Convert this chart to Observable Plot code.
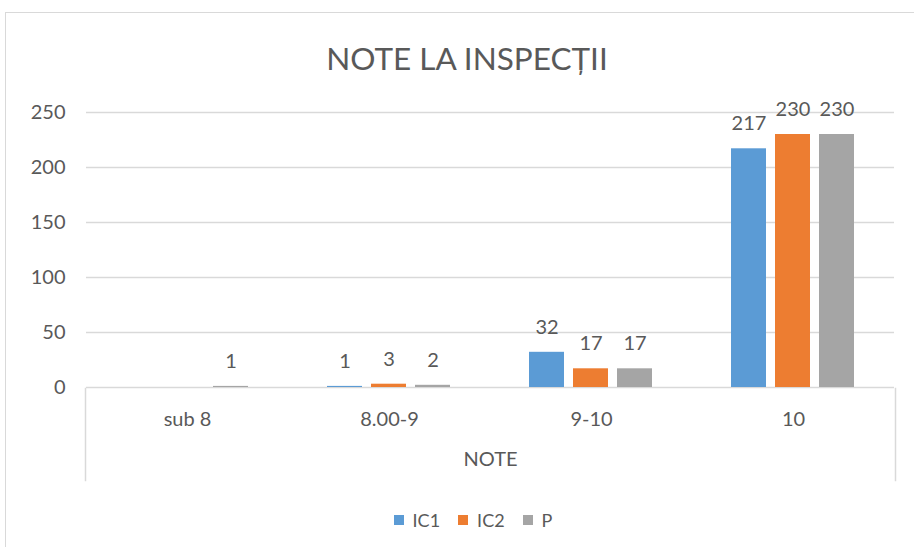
<!DOCTYPE html>
<html>
<head>
<meta charset="utf-8">
<script src="https://cdn.jsdelivr.net/npm/d3@7"></script>
<script src="https://cdn.jsdelivr.net/npm/@observablehq/plot@0.6"></script>
<style>
  html, body { margin: 0; padding: 0; background: #fff; }
  #chart { position: relative; width: 914px; height: 547px; overflow: hidden; font-family: Lato, "Open Sans", sans-serif; color: #595959; }
  #border { position: absolute; left: 5px; top: 12px; width: 1200px; height: 1200px; border-left: 1.5px solid #d9d9d9; border-top: 1.5px solid #d9d9d9; }
  #title { position: absolute; left: 0; top: 38px; width: 934px; text-align: center; font-size: 31.5px; line-height: 40px; color: #595959; }
  #bars { position: absolute; left: 0; top: 80px; }
  #cats { position: absolute; left: 0; top: 388px; }
  #legend { position: absolute; left: 0; top: 503px; width: 964px; display: flex; justify-content: center; }
</style>
</head>
<body>
<div id="chart">
  <div id="border"></div>
  <div id="title">NOTE LA INSPECȚII</div>
  <div id="bars"></div>
  <div id="cats"></div>
  <div id="legend"></div>
</div>
<script>
// ---- data ----
const categories = ["sub 8", "8.00-9", "9-10", "10"];
const series = ["IC1", "IC2", "P"];
const valuesIC1 = [null, 1, 32, 217];
const valuesIC2 = [null, 3, 17, 230];
const valuesP = [1, 2, 17, 230];
const yTicks = [0, 50, 100, 150, 200, 250];
const axisTitle = "NOTE";
const colors = ["#5b9bd5", "#ed7d31", "#a5a5a5"];

const seriesValues = {IC1: valuesIC1, IC2: valuesIC2, P: valuesP};
const rows = [];
categories.forEach((c, i) => {
  series.forEach(s => {
    const v = seriesValues[s][i];
    if (v != null) rows.push({category: c, series: s, value: v});
  });
});

const textColor = "#595959";
const gridColor = "#d9d9d9";
const font = "Lato, 'Open Sans', sans-serif";

const barsPlot = Plot.plot({
  width: 914,
  height: 309,
  marginLeft: 85,
  marginRight: 19,
  marginTop: 32,
  marginBottom: 2,
  style: {fontFamily: font, fontSize: "20px", color: textColor, background: "transparent", overflow: "visible"},
  fx: {domain: categories, padding: 0, axis: null},
  x: {domain: series, paddingInner: 0.2, paddingOuter: 0.85, axis: null},
  y: {domain: [0, 250], ticks: yTicks, tickSize: 0, tickPadding: 21, label: null, axis: "left"},
  color: {domain: series, range: colors},
  marks: [
    Plot.ruleY(yTicks, {stroke: gridColor, strokeWidth: 1.5}),
    Plot.barY(rows, {fx: "category", x: "series", y: "value", fill: "series"}),
    Plot.text(rows, {fx: "category", x: "series", y: "value", text: d => String(d.value), dy: -25, fill: textColor, fontSize: 20})
  ]
});
document.getElementById("bars").appendChild(barsPlot);

const catPlot = Plot.plot({
  width: 914,
  height: 92,
  marginLeft: 85,
  marginRight: 19,
  marginTop: 0,
  marginBottom: 0,
  style: {fontFamily: font, fontSize: "20px", color: textColor, background: "transparent", overflow: "visible"},
  x: {type: "band", domain: categories, padding: 0, axis: null},
  marks: [
    Plot.frame({anchor: "left", stroke: gridColor, strokeWidth: 1.5}),
    Plot.frame({anchor: "right", stroke: gridColor, strokeWidth: 1.5}),
    Plot.text(categories, {x: d => d, frameAnchor: "top", dy: 23, fill: textColor, fontSize: 20}),
    Plot.text([axisTitle], {frameAnchor: "bottom", dy: -15, fill: textColor, fontSize: 20})
  ]
});
document.getElementById("cats").appendChild(catPlot);

const legend = Plot.legend({
  color: {domain: series, range: colors},
  swatchSize: 10,
  style: {fontFamily: font, fontSize: "18px", color: textColor}
});
document.getElementById("legend").appendChild(legend);
</script>
</body>
</html>
